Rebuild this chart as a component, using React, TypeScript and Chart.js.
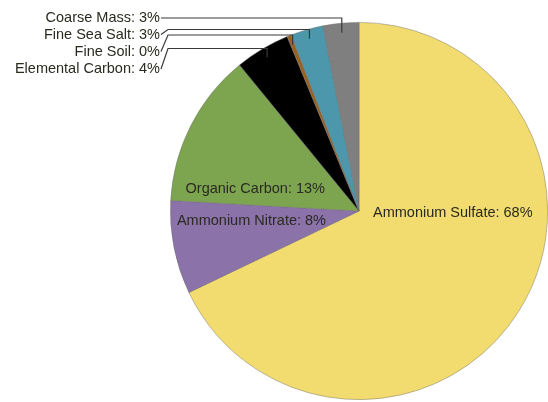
import React, { useEffect, useRef } from "react";
import { Chart, registerables } from "chart.js";

Chart.register(...registerables);

const categories = [
  "Ammonium Sulfate",
  "Ammonium Nitrate",
  "Organic Carbon",
  "Elemental Carbon",
  "Fine Soil",
  "Fine Sea Salt",
  "Coarse Mass",
];
const shares = [67.9, 8.0, 13.2, 4.7, 0.36, 2.8, 3.06];
const percentLabels = [68, 8, 13, 4, 0, 3, 3];
const colors = ["#F3DC6F", "#8B72A8", "#7DA550", "#000000", "#9B6220", "#4C97AB", "#7F7F7F"];

const FONT = "14.5px 'Liberation Sans', Arial, sans-serif";

const labelPlugin = {
  id: "pieLabels",
  afterDraw(chart: any) {
    const ctx = chart.ctx;
    const meta = chart.getDatasetMeta(0);
    const arcs = meta.data;
    if (!arcs.length) return;
    const cx = arcs[0].x;
    const cy = arcs[0].y;
    const r = arcs[0].outerRadius;
    const text = (i: number) => `${categories[i]}: ${percentLabels[i]}%`;
    ctx.save();
    ctx.font = FONT;
    ctx.fillStyle = "#2a2a20";
    ctx.textBaseline = "middle";
    // inside labels
    ctx.textAlign = "left";
    ctx.fillText(text(0), cx + 14, cy + 2);
    ctx.textAlign = "right";
    ctx.fillText(text(1), cx - 33, cy + 10);
    ctx.fillText(text(2), cx - 34, cy - 22);

    // outside labels with leaders
    const outside = [
      { i: 6, ly: cy - 193, lev: cy - 193 },
      { i: 5, ly: cy - 176.5, lev: cy - 181.5 },
      { i: 4, ly: cy - 159.5, lev: cy - 176 },
      { i: 3, ly: cy - 142, lev: cy - 162.5 },
    ];
    const lx = cx - 199;
    ctx.strokeStyle = "#3a3a3a";
    ctx.lineWidth = 1.2;
    for (const o of outside) {
      const a = arcs[o.i];
      const mid = (a.startAngle + a.endAngle) / 2;
      const px = cx + Math.cos(mid) * r * 0.95;
      const py = cy + Math.sin(mid) * r * 0.95;
      ctx.fillText(text(o.i), lx, o.ly);
      ctx.beginPath();
      ctx.moveTo(lx + 1, o.ly);
      if (Math.abs(o.ly - o.lev) > 0.5) ctx.lineTo(lx + 8, o.lev);
      ctx.lineTo(px, o.lev);
      ctx.lineTo(px, py);
      ctx.stroke();
    }
    ctx.restore();
  },
};

export default function App() {
  const ref = useRef<HTMLCanvasElement>(null);
  useEffect(() => {
    document.body.style.margin = "0";
    const chart = new Chart(ref.current!, {
      type: "pie",
      data: {
        labels: categories,
        datasets: [
          {
            data: shares,
            backgroundColor: colors,
            borderColor: "rgba(110,110,110,0.6)",
            borderWidth: 0.75,
          },
        ],
      },
      options: {
        responsive: false,
        animation: false,
        layout: { padding: { left: 170, top: 22, right: 0, bottom: 2 } },
        plugins: { legend: { display: false }, tooltip: { enabled: false } },
      },
      plugins: [labelPlugin],
    });
    return () => chart.destroy();
  }, []);
  return (
    <div style={{ width: 548, height: 402, background: "#fff" }}>
      <canvas ref={ref} width={548} height={402} />
    </div>
  );
}
